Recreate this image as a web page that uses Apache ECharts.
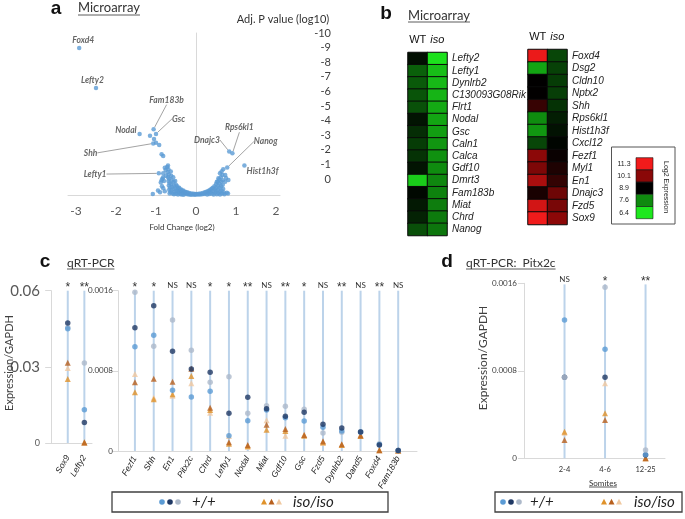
<!DOCTYPE html>
<html><head><meta charset="utf-8">
<script src="https://cdn.jsdelivr.net/npm/echarts@6/dist/echarts.min.js"></script>
<style>html,body{margin:0;padding:0;background:#fff}#c{width:685px;height:519px}</style>
</head><body><div id="c"></div>
<script>
// ================= DATA =================
// Panel a: volcano (log2 fold change, -log10 adj p)
const volcanoCloud = [
[-0.72,1.9],[-0.70,2.0],[-0.69,1.75],[-0.71,1.55],[-0.68,1.4],[-0.70,1.2],[-0.67,1.1],[-0.69,0.95],[-0.66,0.8],[-0.68,0.65],[-0.65,0.5],[-0.67,0.35],[-0.64,0.2],[-0.66,0.1],
[-0.63,1.6],[-0.62,1.3],[-0.61,1.0],[-0.62,0.75],[-0.60,0.55],[-0.61,0.3],[-0.59,0.1],
[-0.57,1.2],[-0.56,0.9],[-0.55,0.65],[-0.56,0.4],[-0.54,0.2],[-0.55,0.05],
[-0.52,0.95],[-0.50,0.7],[-0.51,0.45],[-0.49,0.25],[-0.50,0.08],
[-0.47,0.6],[-0.45,0.45],[-0.46,0.3],[-0.44,0.15],[-0.45,0.03],
[-0.42,0.5],[-0.40,0.35],[-0.41,0.2],[-0.39,0.06],
[-0.37,0.38],[-0.35,0.27],[-0.34,0.14],[-0.36,0.04],
[-0.32,0.3],[-0.30,0.2],[-0.29,0.1],[-0.31,0.02],
[-0.27,0.22],[-0.25,0.15],[-0.24,0.06],[-0.22,0.18],[-0.20,0.1],[-0.19,0.03],
[-0.17,0.14],[-0.15,0.07],[-0.13,0.02],[-0.11,0.1],[-0.09,0.04],[-0.06,0.08],[-0.04,0.02],[-0.02,0.06],
[0.0,0.03],[0.02,0.07],[0.05,0.03],[0.07,0.09],[0.1,0.04],[0.12,0.11],[0.15,0.05],[0.17,0.14],[0.2,0.06],[0.22,0.18],[0.24,0.1],[0.26,0.22],[0.28,0.04],
[0.3,0.26],[0.31,0.14],[0.33,0.3],[0.34,0.06],[0.36,0.35],[0.37,0.2],[0.39,0.42],[0.4,0.1],[0.42,0.5],[0.43,0.28],[0.44,0.04],
[0.46,0.6],[0.47,0.38],[0.48,0.16],[0.5,0.75],[0.5,0.5],[0.51,0.25],[0.52,0.05],
[0.54,0.9],[0.55,0.62],[0.55,0.35],[0.56,0.12],[0.58,1.05],[0.58,0.78],[0.59,0.5],[0.6,0.22],[0.6,0.04],
[0.62,1.2],[0.63,0.9],[0.63,0.6],[0.64,0.3],[0.65,0.1],[0.66,1.35],[0.67,1.0],[0.67,0.7],[0.68,0.4],[0.7,0.15],[0.71,0.05],
[0.68,1.75],[0.6,1.47],[0.73,1.36],[0.56,1.13],[0.81,1.02],[0.52,0.9],[0.77,0.16],[0.75,1.15],[0.8,0.1],[0.73,0.9],[0.64,1.6],
[-1.08,0.07],[-0.95,0.3],[-0.9,0.18],[-0.85,0.6],[-0.82,0.45],[-0.78,0.25],[-0.8,0.95],[-0.86,1.0],[-0.82,1.2],[-0.84,1.1],[-0.88,0.85],
[-0.82,1.47],[-0.75,1.3],[-0.76,1.7],[-0.78,1.85],
[-0.86,2.77],[-0.82,2.65],[-0.92,3.4],[-1.15,4.03],[-1.05,3.8],[-1.0,3.55]
];
const volcanoGenes = ['Foxd4','Lefty2','Fam183b','Gsc','Nodal','Shh','Lefty1','Dnajc3','Rps6kl1','Nanog','Hist1h3f'];
const volcanoGeneFC = [-2.92,-2.5,-1.06,-1.0,-1.41,-1.07,-0.93,0.83,0.91,0.78,1.21];
const volcanoGeneP  = [9.98,7.26,4.47,4.15,4.15,3.5,1.47,2.95,2.83,1.86,2.0];
const foldTicks = [-3,-2,-1,0,1,2];
const pValueTicks = [-10,-9,-8,-7,-6,-5,-4,-3,-2,-1,0];

// Panel b: heatmaps (log2 expression)
const heatCols = ['WT','iso'];
const heatLeftGenes = ['Lefty2','Lefty1','Dynlrb2','C130093G08Rik','Flrt1','Nodal','Gsc','Caln1','Calca','Gdf10','Dmrt3','Fam183b','Miat','Chrd','Nanog'];
const heatLeftWT  = [8.72,8.0,8.05,8.1,8.14,8.67,8.45,8.32,8.41,8.67,6.75,8.78,8.63,8.55,8.15];
const heatLeftIso = [6.49,6.95,7.01,7.08,7.21,7.27,7.36,7.47,7.53,7.6,7.65,7.7,7.74,7.77,7.8];
const heatRightGenes = ['Foxd4','Dsg2','Cldn10','Nptx2','Shh','Rps6kl1','Hist1h3f','Cxcl12','Fezf1','Myl1','En1','Dnajc3','Fzd5','Sox9'];
const heatRightWT  = [11.22,7.27,8.86,8.87,9.34,7.6,7.47,8.23,10.1,9.96,10.45,9.07,10.92,11.28];
const heatRightIso = [8.23,8.27,8.32,8.3,8.41,8.58,8.69,8.81,8.94,9.12,9.3,9.83,9.92,10.1];
const heatLegendTicks = [11.3,10.1,8.9,7.6,6.4];

// Panel c: qRT-PCR (Expression/GAPDH), three embryos per genotype
const cLeftGenes = ['Sox9','Lefty2'];
const cLeftSig = ['*','**'];
const cLeftWT1 = [0.045,0.0131];
const cLeftWT2 = [0.0473,0.0081];
const cLeftWT3 = [0.0455,0.0315];
const cLeftIso1 = [0.0252,0.0003];
const cLeftIso2 = [0.0316,0.0002];
const cLeftIso3 = [0.0295,0.0];

const cMidGenes = ['Fezf1','Shh','En1','Pitx2c','Chrd','Lefty1','Nodal','Miat','Gdf10','Gsc','Fzd5','Dynlrb2','Dand5','Foxd4','Fam183b'];
const cMidSig = ['*','*','NS','NS','*','*','**','NS','**','*','NS','**','NS','**','NS'];
const cMidWT1 = [0.001041,0.001155,0.000606,0.000539,0.000596,0.000153,0.000302,0.000409,0.000332,0.000299,0.000237,0.0002,0.00019,0.000065,0.000005];
const cMidWT2 = [0.001231,0.00145,0.000995,0.000818,0.000786,0.000376,0.000536,0.000422,0.000346,0.000386,0.000267,0.00023,0.00019,0.00006,0.000004];
const cMidWT3 = [0.001584,0.001045,0.001308,0.001005,0.000686,0.000742,0.000376,0.000452,0.000446,0.000416,0.00018,0.000187,0.000193,0.000073,0.000007];
const cMidIso1 = [0.000586,0.000516,0.000566,0.000749,0.000409,0.000073,0.00005,0.000213,0.0002,0.000153,0.000087,0.00006,0.00015,0.000008,0.000005];
const cMidIso2 = [0.000686,0.000722,0.000692,0.000821,0.000432,0.000087,0.00006,0.000263,0.00022,0.00016,0.000097,0.000067,0.000155,0.000008,0.000005];
const cMidIso3 = [0.000769,0.000532,0.000552,0.000676,0.000382,0.00015,0.00004,0.000306,0.000153,0.000163,0.00008,0.000062,0.000163,0.00001,0.000005];

// Panel d: Pitx2c by somite stage
const dStages = ['2-4','4-6','12-25'];
const dSig = ['NS','*','**'];
const dWT1 = [0.001264,0.000997,0.000033];
const dWT2 = [0.00074,0.000741,0.00003];
const dWT3 = [0.000741,0.001563,0.000076];
const dIso1 = [0.000243,0.000411,0.0];
const dIso2 = [0.000167,0.00035,0.0];
const dIso3 = [0.000234,0.000686,0.0];

// ================= STYLE =================
const CAL = 'Lato, "Open Sans", sans-serif';
const ARI = '"Liberation Sans", Arial, sans-serif';
const BLUE = '#5b9bd5', NAVY = '#1f3864', LIGHT = '#adb9ca';
const AMBER = '#e0922a', DARKOR = '#b8601e', TAN = '#f0c8a0';
const STEM = '#bcd3ea';
const heatColors = ['#1ee81e','#0f8a0f','#000000','#8a0808','#f21b1b'];
const volcanoLabelOffset = [[4,-8],[-3.5,-7.6],[13,-29],[22.5,-15],[-13.7,-3.3],[-62.6,9.4],[-63.7,0.7],[-22.3,-11.7],[7,-25.6],[38.5,-26],[18.2,6]];
const volcanoLeader = [false,false,true,true,false,true,true,true,true,true,false];

const mctx = document.createElement('canvas').getContext('2d');
function tw(t, font){ mctx.font = font; return mctx.measureText(t).width; }

const chart = echarts.init(document.getElementById('c'), null, {renderer:'canvas', width:685, height:519});

const grids = [
  {left:68, top:33, width:212, height:162},      // 0 volcano
  {left:334, top:33, width:1, height:146},       // 1 p-value label axis
  {left:408, top:52.5, width:39, height:183},    // 2 heat left
  {left:528, top:49.5, width:39, height:175},    // 3 heat right
  {left:50, top:290.7, width:42, height:152.3},  // 4 c left
  {left:118, top:290.7, width:299, height:160.3},// 5 c mid
  {left:524, top:283.3, width:141, height:175}   // 6 d
];

const greyLine = {show:true, lineStyle:{color:'#d9d9d9', width:1}};
const noShow = {show:false};
const heatXLabel = {margin:7, interval:0, formatter:v=> v==='iso' ? '{i|iso}' : '{n|WT}',
  rich:{i:{fontStyle:'italic', fontSize:11, fontFamily:ARI, color:'#111'}, n:{fontSize:11, fontFamily:ARI, color:'#111'}}};
const heatYLabel = {margin:5, interval:0, fontStyle:'italic', fontSize:10, fontFamily:ARI, color:'#222'};

const xAxes = [
  {gridIndex:0, type:'value', min:-3.2, max:2.1, axisLine:{show:true, onZero:true, lineStyle:{color:'#d9d9d9'}}, axisTick:noShow, splitLine:noShow,
   axisLabel:{customValues:foldTicks, color:'#595959', fontSize:12, fontFamily:CAL, margin:10}},
  {gridIndex:1, type:'value', show:false},
  {gridIndex:2, type:'category', data:heatCols, position:'top', axisLine:noShow, axisTick:noShow, axisLabel:heatXLabel},
  {gridIndex:3, type:'category', data:heatCols, position:'top', axisLine:noShow, axisTick:noShow, axisLabel:heatXLabel},
  {gridIndex:4, type:'value', min:-0.07, max:2.46, axisLine:greyLine, axisTick:noShow, splitLine:noShow,
   axisLabel:{customValues:cLeftGenes.map((g,i)=>i+1), formatter:v=>cLeftGenes[Math.round(v)-1], rotate:60, margin:13, fontSize:8.5, fontStyle:'italic', fontFamily:ARI, color:'#222'}},
  {gridIndex:5, type:'value', min:0.1, max:16.0, axisLine:greyLine, axisTick:noShow, splitLine:noShow,
   axisLabel:{customValues:cMidGenes.map((g,i)=>i+1), formatter:v=>cMidGenes[Math.round(v)-1], rotate:60, margin:6, fontSize:8.5, fontStyle:'italic', fontFamily:ARI, color:'#222'}},
  {gridIndex:6, type:'value', min:0, max:3.48, axisLine:greyLine, axisTick:noShow, splitLine:noShow,
   axisLabel:{customValues:dStages.map((g,i)=>i+1), formatter:v=>dStages[Math.round(v)-1], margin:7, fontSize:7.5, fontFamily:CAL, color:'#333'}}
];

const yAxes = [
  {gridIndex:0, type:'value', min:0, max:11, axisLine:{show:true, onZero:true, lineStyle:{color:'#d9d9d9'}}, axisTick:noShow, axisLabel:noShow, splitLine:noShow},
  {gridIndex:1, type:'value', min:-10, max:0, interval:1, inverse:true, position:'left', axisLine:noShow, axisTick:noShow, splitLine:noShow,
   axisLabel:{customValues:pValueTicks, color:'#404040', fontSize:11, fontFamily:CAL, margin:3}},
  {gridIndex:2, type:'category', data:heatLeftGenes, inverse:true, position:'right', axisLine:noShow, axisTick:noShow, axisLabel:heatYLabel},
  {gridIndex:3, type:'category', data:heatRightGenes, inverse:true, position:'right', axisLine:noShow, axisTick:noShow, axisLabel:heatYLabel},
  {gridIndex:4, type:'value', min:0, max:0.06, interval:0.03, axisLine:greyLine, axisTick:{show:true, length:6, lineStyle:{color:'#d9d9d9'}}, splitLine:noShow,
   axisLabel:{margin:10, formatter:v=> v===0 ? '{s|0}' : '{b|'+v.toFixed(2)+'}', rich:{s:{fontSize:9, color:'#595959', fontFamily:CAL}, b:{fontSize:15, color:'#595959', fontFamily:CAL}}}},
  {gridIndex:5, type:'value', min:0, max:0.0016, interval:0.0008, axisLine:greyLine, axisTick:{show:true, length:5, lineStyle:{color:'#d9d9d9'}}, splitLine:noShow,
   axisLabel:{margin:5, formatter:v=> v===0 ? '0' : v.toFixed(4), fontSize:8, color:'#404040', fontFamily:CAL}},
  {gridIndex:6, type:'value', min:0, max:0.0016, interval:0.0008, axisLine:greyLine, axisTick:{show:true, length:6, lineStyle:{color:'#d9d9d9'}}, splitLine:noShow,
   axisLabel:{margin:7, formatter:v=> v===0 ? '0' : v.toFixed(4), fontSize:8, color:'#404040', fontFamily:CAL}}
];

const series = [];
// volcano
series.push({type:'scatter', xAxisIndex:0, yAxisIndex:0, data:volcanoCloud, symbolSize:4.5, itemStyle:{color:BLUE}, silent:true, z:2});
series.push({type:'scatter', xAxisIndex:0, yAxisIndex:0, symbolSize:4.5, itemStyle:{color:BLUE}, silent:true, z:3,
  data: volcanoGenes.map((g,i)=>({name:g, value:[volcanoGeneFC[i], volcanoGeneP[i]], labelLine:{show:volcanoLeader[i]}})),
  label:{show:true, position:'inside', formatter:'{b}', fontSize:8.5, fontStyle:'italic', fontWeight:'bold', fontFamily:CAL, color:'#404040'},
  labelLine:{show:true, lineStyle:{color:'#8c8c8c', width:0.8}},
  labelLayout: p => { const o = volcanoLabelOffset[p.dataIndex]; return {x:p.rect.x + p.rect.width/2 + o[0], y:p.rect.y + p.rect.height/2 + o[1], align:'center', verticalAlign:'middle'}; }
});
// heatmaps
const heatIdx = [];
heatIdx.push(series.length);
series.push({type:'heatmap', xAxisIndex:2, yAxisIndex:2, silent:true,
  data: heatLeftGenes.flatMap((g,i)=>[[0,i,heatLeftWT[i]],[1,i,heatLeftIso[i]]]),
  itemStyle:{borderColor:'#0a0a0a', borderWidth:1}});
heatIdx.push(series.length);
series.push({type:'heatmap', xAxisIndex:3, yAxisIndex:3, silent:true,
  data: heatRightGenes.flatMap((g,i)=>[[0,i,heatRightWT[i]],[1,i,heatRightIso[i]]]),
  itemStyle:{borderColor:'#0a0a0a', borderWidth:1}});

function lollipop(ax, names, sig, stemTop, reps){
  series.push({type:'bar', xAxisIndex:ax, yAxisIndex:ax, barWidth:2, silent:true, z:1,
    data: names.map((n,i)=>[i+1, stemTop]), itemStyle:{color:STEM},
    label:{show:true, position:'top', distance:1, formatter:p=> sig[p.dataIndex]==='NS' ? '{n|NS}' : '{s|'+sig[p.dataIndex]+'}',
      rich:{n:{fontSize:8, fontFamily:CAL, color:'#333'}, s:{fontSize:12, fontFamily:ARI, color:'#333', padding:[0,0,-4,0]}}}});
  reps.forEach(r=>{
    series.push({type:'scatter', xAxisIndex:ax, yAxisIndex:ax, silent:true, z:3, symbol:r.sym, symbolSize:r.sym==='triangle'?6:5.5,
      itemStyle:{color:r.color}, data: names.map((n,i)=>[i+1, r.vals[i]])});
  });
}
lollipop(4, cLeftGenes, cLeftSig, 0.0616, [
  {sym:'triangle', color:TAN, vals:cLeftIso3},{sym:'triangle', color:AMBER, vals:cLeftIso1},{sym:'triangle', color:DARKOR, vals:cLeftIso2},
  {sym:'circle', color:LIGHT, vals:cLeftWT3},{sym:'circle', color:BLUE, vals:cLeftWT1},{sym:'circle', color:NAVY, vals:cLeftWT2}]);
lollipop(5, cMidGenes, cMidSig, 0.001647, [
  {sym:'triangle', color:TAN, vals:cMidIso3},{sym:'triangle', color:AMBER, vals:cMidIso1},{sym:'triangle', color:DARKOR, vals:cMidIso2},
  {sym:'circle', color:LIGHT, vals:cMidWT3},{sym:'circle', color:BLUE, vals:cMidWT1},{sym:'circle', color:NAVY, vals:cMidWT2}]);
lollipop(6, dStages, dSig, 0.00159, [
  {sym:'triangle', color:TAN, vals:dIso3},{sym:'triangle', color:AMBER, vals:dIso1},{sym:'triangle', color:DARKOR, vals:dIso2},
  {sym:'circle', color:NAVY, vals:dWT2},{sym:'circle', color:BLUE, vals:dWT1},{sym:'circle', color:LIGHT, vals:dWT3}]);

// ================= GRAPHICS (titles, legends) =================
const G = [];
function text(x, y, t, o){ o = o||{};
  G.push({type:'text', x, y, rotation:o.rot||0, silent:true, z:100, style:{text:t, fill:o.fill||'#333', font:o.font, align:o.align||'left', verticalAlign:o.va||'middle'}}); }
function titleU(x, y, t, font, uy){ text(x, y, t, {font}); const w = tw(t, font);
  G.push({type:'line', silent:true, z:100, shape:{x1:x, y1:uy, x2:x+w, y2:uy}, style:{stroke:'#333', lineWidth:0.8}}); }
text(56, 9, 'a', {font:'bold 19px '+ARI, align:'center', fill:'#111'});
titleU(78, 8, 'Microarray', '13px '+CAL, 15);
text(386, 14, 'b', {font:'bold 19px '+ARI, align:'center', fill:'#111'});
titleU(408, 16, 'Microarray', '13px '+CAL, 22);
text(283, 19, 'Adj. P value (log10)', {font:'11px '+CAL, align:'center', fill:'#333'});
text(182, 227, 'Fold Change (log2)', {font:'8px '+CAL, align:'center', fill:'#333'});
text(45, 262, 'c', {font:'bold 19px '+ARI, align:'center', fill:'#111'});
titleU(67, 263, 'qRT-PCR', '12px '+CAL, 269);
text(447, 262, 'd', {font:'bold 19px '+ARI, align:'center', fill:'#111'});
titleU(466, 263, 'qRT-PCR:  Pitx2c', '12px '+CAL, 269);
text(9, 363, 'Expression/GAPDH', {font:'11px '+CAL, align:'center', rot:Math.PI/2, fill:'#404040'});
text(483, 358, 'Expression/GAPDH', {font:'12px '+CAL, align:'center', rot:Math.PI/2, fill:'#404040'});
titleU(589, 483, 'Somites', '8px '+CAL, 487);

// heatmap colour key
G.push({type:'rect', silent:true, z:100, shape:{x:611.5, y:147, width:63.5, height:77}, style:{fill:'#fff', stroke:'#555', lineWidth:1}});
heatLegendTicks.forEach((v,i)=>{
  const y0 = 157.7 + i*12.2;
  G.push({type:'rect', silent:true, z:101, shape:{x:636, y:y0, width:17, height:12.2}, style:{fill:heatColors[heatColors.length-1-i], stroke:'#111', lineWidth:0.6}});
  text(624, y0+6.1, v.toFixed(1), {font:'7px '+ARI, align:'center', fill:'#222'});
});
text(666, 161, 'Log2 Expression', {font:'7px '+ARI, align:'left', rot:-Math.PI/2, fill:'#222'});

// qRT-PCR legends
function legendBox(x, y, w, h, circX, plusX, triX, isoX){
  G.push({type:'rect', silent:true, z:100, shape:{x, y, width:w, height:h}, style:{fill:'#fff', stroke:'#404040', lineWidth:1.3}});
  const cy = y + h/2;
  [BLUE, NAVY, LIGHT].forEach((c,i)=> G.push({type:'circle', silent:true, z:101, shape:{cx:circX+i*8, cy, r:2.8}, style:{fill:c}}));
  text(plusX, cy, '+/+', {font:'italic 15px '+CAL, fill:'#222'});
  [AMBER, DARKOR, TAN].forEach((c,i)=>{ const cx = triX+i*7.5;
    G.push({type:'polygon', silent:true, z:101, shape:{points:[[cx,cy-3.2],[cx+3,cy+2.4],[cx-3,cy+2.4]]}, style:{fill:c}}); });
  text(isoX, cy, 'iso/iso', {font:'italic 15px '+CAL, fill:'#222'});
}
legendBox(112, 492, 276, 20, 162, 192, 264, 293);
legendBox(495, 492, 187, 20, 503, 530, 604, 634);

chart.setOption({
  animation:false,
  backgroundColor:'#fff',
  grid: grids,
  xAxis: xAxes,
  yAxis: yAxes,
  visualMap: [{type:'continuous', min:6.4, max:11.3, show:false, seriesIndex:heatIdx, inRange:{color:heatColors}}],
  series: series,
  graphic: G
});
</script></body></html>
